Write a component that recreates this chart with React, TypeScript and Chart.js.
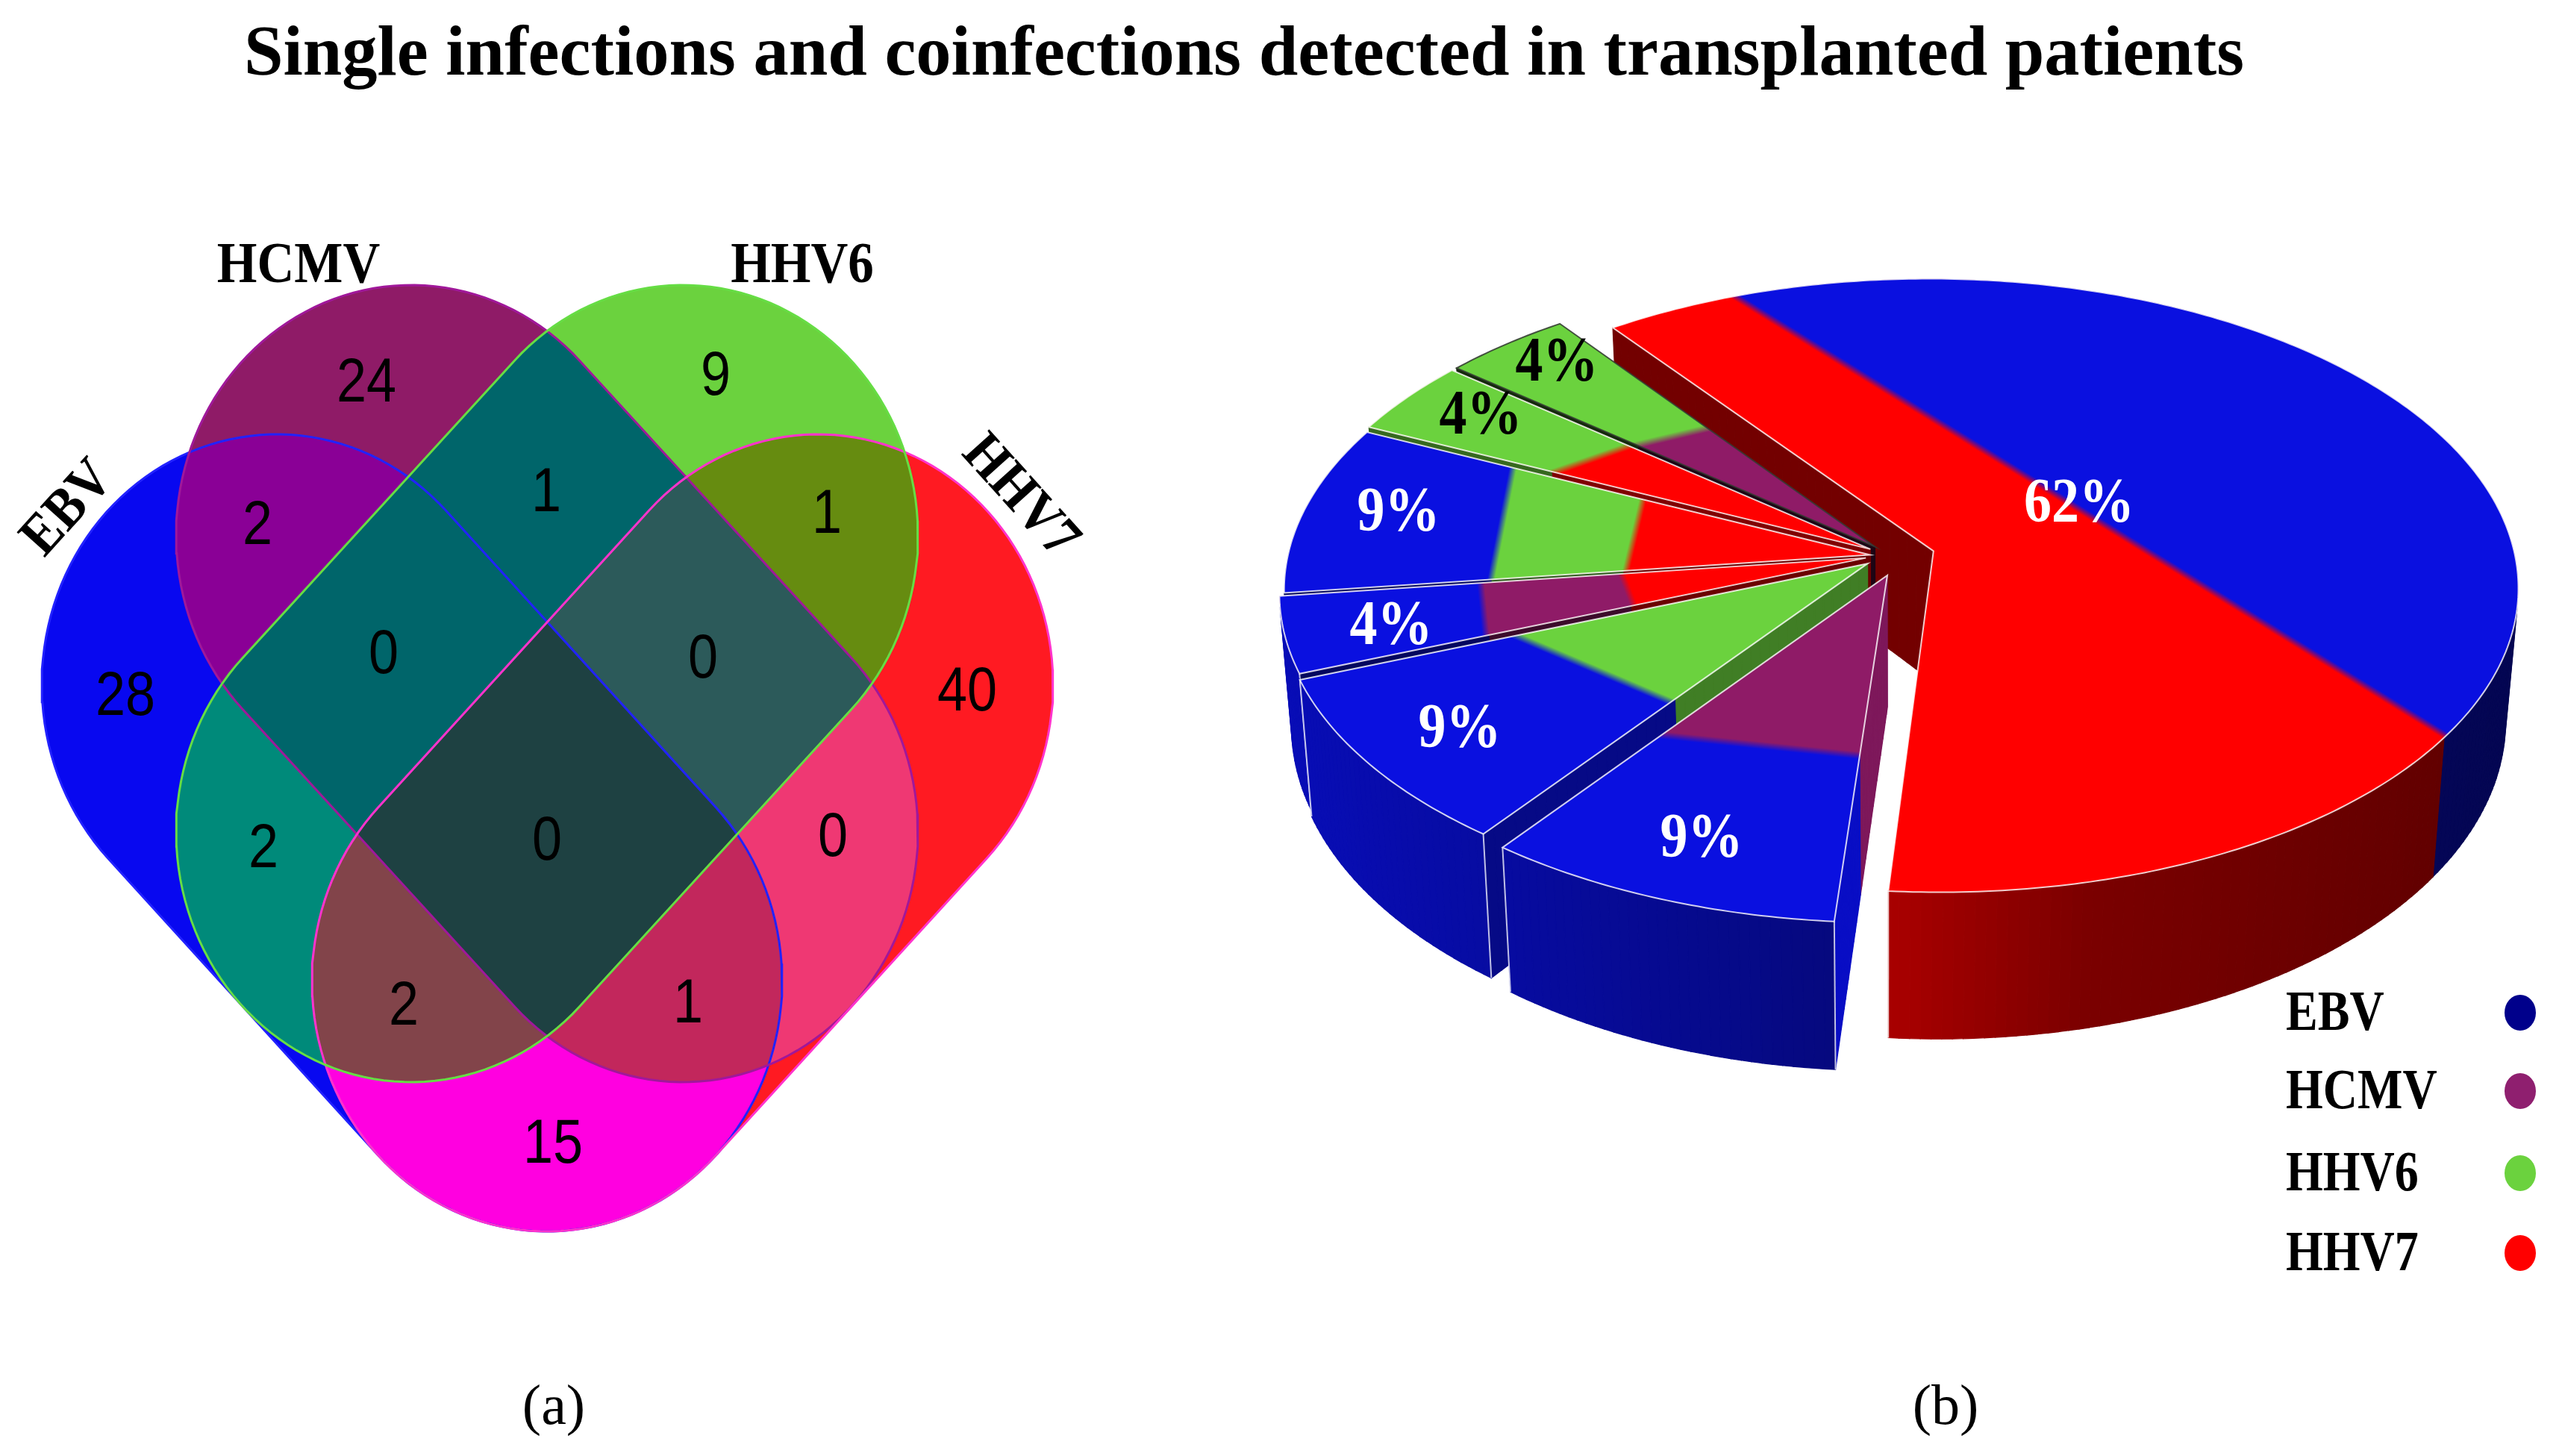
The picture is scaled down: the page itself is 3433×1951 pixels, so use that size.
import React, { useEffect, useRef } from "react";
import { Chart, registerables } from "chart.js";
Chart.register(...registerables);

const PAGE_W = 3433, PAGE_H = 1951;
const SERIF = '"Liberation Serif", serif';

const titleText = "Single infections and coinfections detected in transplanted patients";
const setNames = ["EBV", "HCMV", "HHV6", "HHV7"];

// ---- Venn (a): each set is the hull of two round ends
const setEnds = [
  [[371, 917], [733, 1315]],
  [[551, 717], [915, 1115]],
  [[915, 717], [551, 1115]],
  [[1096, 917], [733, 1315]],
];
const setOutlineColors = ["#2222ff", "#a0189a", "#66dd44", "#ff33cc"];
const regionMembers = [[0],[1],[2],[3],[0,1],[1,2],[2,3],[0,2],[1,3],[0,3],[0,1,2],[1,2,3],[0,2,3],[0,1,3],[0,1,2,3]];
const regionCounts  = [28,24,9,40,2,1,1,2,0,15,0,0,2,1,0];
const regionColors  = ["#0808f0","#8f1b67","#6bd23e","#ff1a22","#8a0096","#00656a","#668c10","#008a7a","#ef3873","#ff00e0","#00656a","#2c5a5a","#82444a","#c2275c","#1e4142"];
const regionLabelX  = [168,491,959,1296,345,732,1108,353,1116,741,514,942,541,922,733];
const regionLabelY  = [935,515,506,929,706,662,691,1139,1124,1535,879,885,1350,1347,1129];
const setLabelX = [92,400,1075,1366];
const setLabelY = [682,358,358,666];
const setLabelRot = [-48,0,0,48];

// ---- Pie (b)
const sliceValues = [62,9,9,4,9,4,4];
const sliceLabels = ["62%","9%","9%","4%","9%","4%","4%"];
const sliceLabelColors = ["#fff","#fff","#fff","#fff","#fff","#000","#000"];
const sliceLabelX = [2786,2280,1956,1864,1874,1984,2086];
const sliceLabelY = [677,1126,979,841,689,559,488];
const sliceOffsets = [75,48,36,23,21,37,37];
const sliceNudgeX = [7,24,8,0,4,14,15];
const sliceNudgeY = [3,5,0,0,0,0,0];
const E = "#0a10e0", C = "#8f1b67", S = "#6bd23e", R = "#ff0000";
const sliceBands = [[R,E],[C,E],[S,E],[R,C,E],[R,S,E],[R,S],[C,S]];
// where each colour boundary crosses the slice: [fraction across, fraction of radius]
const sliceBoundaries = [
  [[[0.067,1],[0.73,1]]],
  [[[0,0.55],[1,0.61]]],
  [[[0,0.535],[1,0.63]]],
  [[[0,0.42],[1,0.42]],[[0,0.68],[1,0.66]]],
  [[[0,0.42],[1,0.44]],[[0,0.65],[1,0.70]]],
  [[[0,0.62],[1,0.56]]],
  [[[0,0.553],[1,0.51]]],
];
const sliceFaceShade = [0.45,0.88,0.6,0.42,0.42,0.5,0.2];
const paintOrder = [0,6,5,4,3,2,1];
const legendColors = ["#00008b","#8f1f6f","#6bd23e","#ff0000"];
const legendY = [1355,1460,1570,1677];

function stretched(ctx: any, s: string, x: number, y: number, font: string, color: string, sy = 1, rot = 0, align = "center") {
  ctx.save();
  ctx.translate(x, y);
  ctx.rotate((rot * Math.PI) / 180);
  ctx.scale(1, sy);
  ctx.font = font;
  ctx.fillStyle = color;
  ctx.textAlign = align;
  ctx.textBaseline = "middle";
  ctx.fillText(s, 0, 0);
  ctx.restore();
}

const STRETCH = 1.0635, RADIUS = 315;
function outline(ends: number[][]) {
  const [a, b] = ends;
  const ax = a[0], ay = a[1] / STRETCH, bx = b[0], by = b[1] / STRETCH;
  const ang = Math.atan2(by - ay, bx - ax);
  const pts: { x: number; y: number }[] = [];
  const N = 72;
  for (let i = 0; i <= N; i++) {
    const t = ang + Math.PI / 2 + (Math.PI * i) / N;
    pts.push({ x: ax + RADIUS * Math.cos(t), y: (ay + RADIUS * Math.sin(t)) * STRETCH });
  }
  for (let i = 0; i <= N; i++) {
    const t = ang - Math.PI / 2 + (Math.PI * i) / N;
    pts.push({ x: bx + RADIUS * Math.cos(t), y: (by + RADIUS * Math.sin(t)) * STRETCH });
  }
  pts.push(pts[0]);
  return pts;
}

const vennPlugin = {
  id: "vennRegions",
  beforeDatasetsDraw(chart: any) {
    const { ctx, scales } = chart;
    const shapes = setEnds.map(outline);
    const order = regionMembers.map((m, i) => i).sort((p, q) => regionMembers[p].length - regionMembers[q].length);
    for (const i of order) {
      ctx.save();
      for (const m of regionMembers[i]) {
        ctx.beginPath();
        shapes[m].forEach((p, k) => {
          const X = scales.x.getPixelForValue(p.x), Y = scales.y.getPixelForValue(p.y);
          k ? ctx.lineTo(X, Y) : ctx.moveTo(X, Y);
        });
        ctx.closePath();
        ctx.clip();
      }
      ctx.fillStyle = regionColors[i];
      ctx.fillRect(0, 0, chart.width, chart.height);
      ctx.restore();
    }
  },
  afterDatasetsDraw(chart: any) {
    const { ctx, scales } = chart;
    regionCounts.forEach((c, i) => {
      stretched(ctx, String(c), scales.x.getPixelForValue(regionLabelX[i]), scales.y.getPixelForValue(regionLabelY[i]),
        '72px "Liberation Sans", sans-serif', "#000", 1.15);
    });
    setNames.forEach((n, i) => {
      stretched(ctx, n, scales.x.getPixelForValue(setLabelX[i]), scales.y.getPixelForValue(setLabelY[i]),
        `bold 69px ${SERIF}`, "#000", 1.12, setLabelRot[i]);
    });
  },
};

// ---- perspective of the pie's plane
const PIE_LEFT = 1600;
const CX = 2520, CY = 745, RX = 780, RY = 408, PERSP = 0.1125, DEPTH = 175, TAPER = 0.02;
function project(u: number, v: number, z: number) {
  const w = 1 - PERSP * v;
  return { x: CX + ((RX * u) / w) * (1 - TAPER * z), y: CY + (RY * v + DEPTH * z) / w };
}
function rgb(hex: string) {
  return [1, 3, 5].map((i) => parseInt(hex.slice(i, i + 2), 16));
}
function shade(hex: string, f: number) {
  const c = rgb(hex);
  return `rgb(${Math.round(c[0] * f)},${Math.round(c[1] * f)},${Math.round(c[2] * f)})`;
}
function rimShade(x: number) {
  const xs = [1700, 2470, 2540, 2800, 3400], fs = [0.82, 0.56, 0.66, 0.48, 0.36];
  for (let i = 0; i < xs.length - 1; i++) if (x <= xs[i + 1]) return fs[i] + ((fs[i + 1] - fs[i]) * (x - xs[i])) / (xs[i + 1] - xs[i]);
  return fs[fs.length - 1];
}

const piePlugin = {
  id: "pie3d",
  beforeDatasetsDraw(chart: any) {
    const { ctx } = chart;
    const arcs = chart.getDatasetMeta(0).data;
    ctx.save();
    ctx.translate(-PIE_LEFT, 0);
    for (const idx of paintOrder) {
      const arc = arcs[idx];
      const R0 = arc.outerRadius, a0 = arc.startAngle, a1 = arc.endAngle;
      const mid = (a0 + a1) / 2, off = arc.options.offset / R0;
      const ou = Math.cos(mid) * off, ov = Math.sin(mid) * off;
      const at = (a: number, r: number) => ({ u: ou + r * Math.cos(a), v: ov + r * Math.sin(a) });
      const P = (a: number, r: number, z: number) => {
        const q = at(a, r);
        const p = project(q.u, q.v, z);
        return { x: p.x + sliceNudgeX[idx], y: p.y + sliceNudgeY[idx] };
      };
      const apex = P(a0, 0, 0);
      const bounds = sliceBoundaries[idx].map((b: number[][]) => {
        const p1 = P(a0 + b[0][0] * (a1 - a0), b[0][1], 0), p2 = P(a0 + b[1][0] * (a1 - a0), b[1][1], 0);
        return { p1, p2 };
      });
      const side = (b: any, p: any) => (b.p2.x - b.p1.x) * (p.y - b.p1.y) - (b.p2.y - b.p1.y) * (p.x - b.p1.x);
      const bandAt = (p: any) => {
        let c = 0;
        bounds.forEach((b: any) => {
          if (Math.sign(side(b, p)) !== Math.sign(side(b, apex))) c++;
        });
        return sliceBands[idx][c];
      };
      const quad = (A: any, B: any, B2: any, A2: any, color: string) => {
        const pts = [A, B, B2, A2];
        let area = 0;
        pts.forEach((p, i) => {
          const q = pts[(i + 1) % 4];
          area += p.x * q.y - q.x * p.y;
        });
        if (area >= 0) return false;
        ctx.beginPath();
        pts.forEach((p, i) => (i ? ctx.lineTo(p.x, p.y) : ctx.moveTo(p.x, p.y)));
        ctx.closePath();
        ctx.fillStyle = color;
        ctx.strokeStyle = color;
        ctx.lineWidth = 1.2;
        ctx.fill();
        ctx.stroke();
        return true;
      };
      // cut faces
      const N = 40;
      for (let i = 0; i < N; i++) {
        const r1 = i / N, r2 = (i + 1) / N;
        quad(P(a0, r1, 0), P(a0, r2, 0), P(a0, r2, 1), P(a0, r1, 1), shade(bandAt(P(a0, (r1 + r2) / 2, 0)), sliceFaceShade[idx]));
      }
      for (let i = 0; i < N; i++) {
        const r1 = 1 - i / N, r2 = 1 - (i + 1) / N;
        quad(P(a1, r1, 0), P(a1, r2, 0), P(a1, r2, 1), P(a1, r1, 1), shade(bandAt(P(a1, (r1 + r2) / 2, 0)), 0.9));
      }
      // outer rim
      const M = Math.max(12, Math.round((a1 - a0) * 60));
      let firstVis: number | null = null, lastVis: number | null = null;
      for (let i = 0; i < M; i++) {
        const t1 = a0 + ((a1 - a0) * i) / M, t2 = a0 + ((a1 - a0) * (i + 1)) / M;
        const top = P((t1 + t2) / 2, 1, 0);
        const vis = quad(P(t1, 1, 0), P(t2, 1, 0), P(t2, 1, 1), P(t1, 1, 1), shade(bandAt(top), rimShade(top.x)));
        if (vis) {
          if (firstVis === null) firstVis = t1;
          lastVis = t2;
        }
      }
      ctx.strokeStyle = "rgba(255,255,255,0.75)";
      ctx.lineWidth = 2;
      if (firstVis !== null) {
        for (const t of [a0, a1]) {
          if (Math.abs(t - firstVis) < 1e-6 || Math.abs(t - (lastVis as number)) < 1e-6) {
            const p = P(t, 1, 0), q = P(t, 1, 1);
            ctx.beginPath();
            ctx.moveTo(p.x, p.y);
            ctx.lineTo(q.x, q.y);
            ctx.stroke();
          }
        }
      }
      // top face
      const path = () => {
        ctx.beginPath();
        ctx.moveTo(apex.x, apex.y);
        const K = Math.max(16, Math.round((a1 - a0) * 80));
        for (let i = 0; i <= K; i++) {
          const p = P(a0 + ((a1 - a0) * i) / K, 1, 0);
          ctx.lineTo(p.x, p.y);
        }
        ctx.closePath();
      };
      ctx.save();
      path();
      ctx.clip();
      ctx.fillStyle = sliceBands[idx][0];
      ctx.fillRect(PIE_LEFT, 0, chart.width, chart.height);
      bounds.forEach((b: any, bi: number) => {
        const dx = b.p2.x - b.p1.x, dy = b.p2.y - b.p1.y, L = Math.hypot(dx, dy);
        let nx = -dy / L, ny = dx / L;
        if (nx * (apex.x - b.p1.x) + ny * (apex.y - b.p1.y) > 0) {
          nx = -nx;
          ny = -ny;
        }
        const soft = 5;
        const g = ctx.createLinearGradient(b.p1.x - nx * soft, b.p1.y - ny * soft, b.p1.x + nx * soft, b.p1.y + ny * soft);
        const c = rgb(sliceBands[idx][bi + 1]);
        g.addColorStop(0, `rgba(${c[0]},${c[1]},${c[2]},0)`);
        g.addColorStop(1, `rgba(${c[0]},${c[1]},${c[2]},1)`);
        ctx.fillStyle = g;
        ctx.fillRect(PIE_LEFT, 0, chart.width, chart.height);
      });
      ctx.restore();
      path();
      ctx.strokeStyle = idx === 6 ? "rgba(50,60,50,0.85)" : "rgba(255,255,255,0.8)";
      ctx.lineWidth = 2;
      ctx.stroke();
    }
    ctx.restore();
    return false;
  },
  afterDraw(chart: any) {
    const { ctx } = chart;
    ctx.save();
    ctx.translate(-PIE_LEFT, 0);
    sliceLabels.forEach((s, i) => {
      stretched(ctx, s, sliceLabelX[i], sliceLabelY[i], `bold 74px ${SERIF}`, sliceLabelColors[i], 1.15);
    });
    setNames.forEach((n, i) => {
      stretched(ctx, n, 3063, legendY[i] + 5, `bold 64px ${SERIF}`, "#000", 1.2, 0, "left");
      ctx.beginPath();
      ctx.ellipse(3377, legendY[i] + 2, 21, 24, 0, 0, Math.PI * 2);
      ctx.fillStyle = legendColors[i];
      ctx.fill();
    });
    ctx.restore();
  },
};

export default function App() {
  const vennRef = useRef<HTMLCanvasElement>(null);
  const pieRef = useRef<HTMLCanvasElement>(null);
  useEffect(() => {
    const venn = new Chart(vennRef.current as any, {
      type: "scatter",
      data: {
        datasets: [
          { label: "Counts", data: regionCounts.map((_, i) => ({ x: regionLabelX[i], y: regionLabelY[i] })), pointRadius: 0, showLine: false },
          ...[2, 3, 1, 0].map((i) => ({
            label: setNames[i],
            data: outline(setEnds[i]),
            showLine: true,
            pointRadius: 0,
            borderColor: setOutlineColors[i],
            borderWidth: 3,
            fill: false,
            tension: 0,
          })),
        ],
      } as any,
      options: {
        animation: false,
        responsive: false,
        devicePixelRatio: 1,
        layout: { padding: 0 },
        plugins: { legend: { display: false }, tooltip: { enabled: false } },
        scales: {
          x: { type: "linear", display: false, min: 0, max: 1500 },
          y: { type: "linear", display: false, min: 0, max: PAGE_H, reverse: true },
        },
      } as any,
      plugins: [vennPlugin as any],
    });
    const pie = new Chart(pieRef.current as any, {
      type: "pie",
      data: {
        labels: sliceLabels,
        datasets: [{ data: sliceValues, backgroundColor: sliceBands.map((b) => b[0]), offset: sliceOffsets, borderWidth: 0 }],
      },
      options: {
        animation: false,
        responsive: false,
        devicePixelRatio: 1,
        rotation: -36.5,
        plugins: { legend: { display: false }, tooltip: { enabled: false } },
      } as any,
      plugins: [piePlugin as any],
    });
    return () => {
      venn.destroy();
      pie.destroy();
    };
  }, []);
  const caption: React.CSSProperties = { position: "absolute", top: 1842, fontFamily: SERIF, fontSize: 76, lineHeight: "80px", color: "#000", transform: "translateX(-50%)" };
  return (
    <div style={{ position: "absolute", left: 0, top: 0, width: PAGE_W, height: PAGE_H, background: "#fff", overflow: "hidden" }}>
      <div style={{ position: "absolute", left: 1667, top: 18, whiteSpace: "nowrap", fontFamily: SERIF, fontWeight: 700, fontSize: 94.5, lineHeight: "100px", color: "#000", transform: "translateX(-50%)" }}>
        {titleText}
      </div>
      <canvas ref={vennRef} width={1500} height={PAGE_H} style={{ position: "absolute", left: 0, top: 0 }} />
      <canvas ref={pieRef} width={PAGE_W - PIE_LEFT} height={PAGE_H} style={{ position: "absolute", left: PIE_LEFT, top: 0 }} />
      <div style={{ ...caption, left: 742 }}>(a)</div>
      <div style={{ ...caption, left: 2607 }}>(b)</div>
    </div>
  );
}
